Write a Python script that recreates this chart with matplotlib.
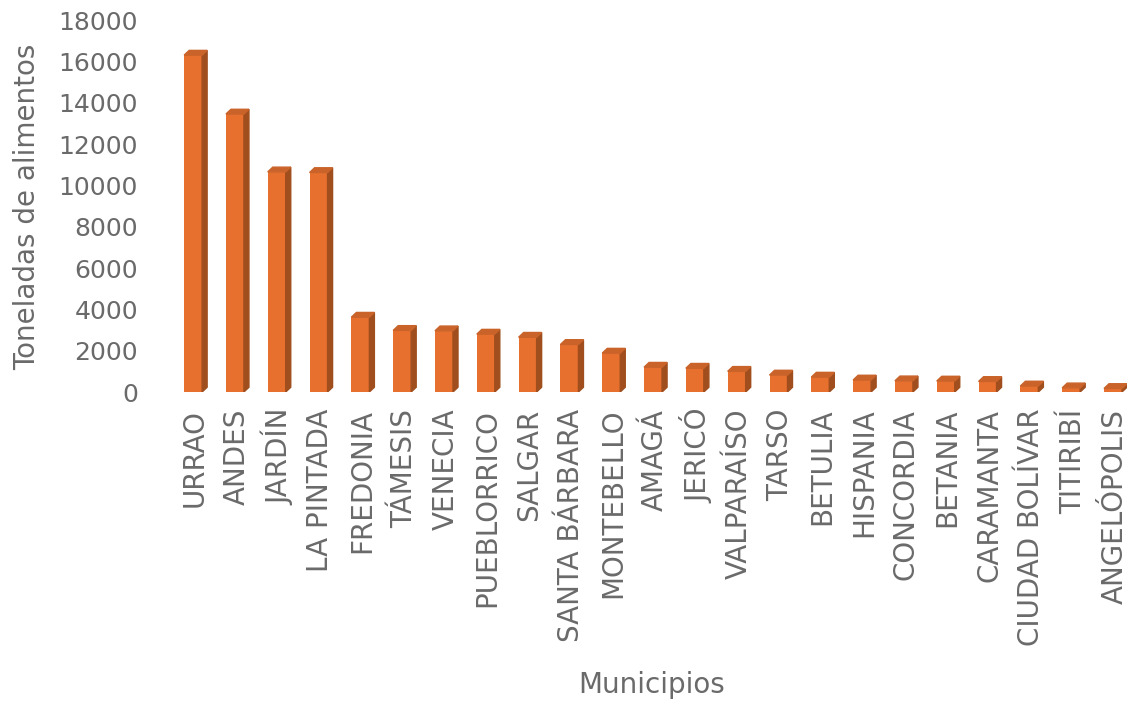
import numpy as np
import matplotlib.pyplot as plt
from matplotlib.patches import Polygon

# datos
municipios = ['URRAO', 'ANDES', 'JARDÍN', 'LA PINTADA', 'FREDONIA', 'TÁMESIS',
              'VENECIA', 'PUEBLORRICO', 'SALGAR', 'SANTA BÁRBARA', 'MONTEBELLO',
              'AMAGÁ', 'JERICÓ', 'VALPARAÍSO', 'TARSO', 'BETULIA', 'HISPANIA',
              'CONCORDIA', 'BETANIA', 'CARAMANTA', 'CIUDAD BOLÍVAR', 'TITIRIBÍ',
              'ANGELÓPOLIS']
toneladas = [16300, 13450, 10650, 10620, 3620, 2980, 2960, 2800, 2650, 2300,
             1880, 1200, 1150, 1000, 820, 720, 580, 540, 530, 510, 290, 200, 170]
yticks = np.arange(0, 18001, 2000)

front = '#E8702F'
side = '#A04E1D'
top = '#C9632A'
gray = '#6a6a6a'

fig = plt.figure(figsize=(11.27, 7.02), dpi=100)
ax = fig.add_axes([170 / 1127, 1 - 392 / 702, 957 / 1127, 372 / 702])

x = np.arange(len(municipios))
w = 0.43
dx = 0.12
dy = 230
x0 = x - 0.26

ax.bar(x0, toneladas, width=w, align='edge', color=front, zorder=3)
for xi, v in zip(x0, toneladas):
    x1 = xi + w
    # cara lateral y tapa (efecto 3D)
    ax.add_patch(Polygon([(x1, 0), (x1 + dx, dy), (x1 + dx, v + dy), (x1, v)],
                         closed=True, color=side, zorder=3))
    ax.add_patch(Polygon([(xi, v), (x1, v), (x1 + dx, v + dy), (xi + dx, v + dy)],
                         closed=True, color=top, zorder=3))

ax.set_xlim(-0.598, 22.29)
ax.set_ylim(0, 18000)
ax.set_yticks(yticks)
ax.set_yticklabels([str(t) for t in yticks])
ax.set_xticks(x)
ax.set_xticklabels(municipios, rotation=90)

for s in ax.spines.values():
    s.set_visible(False)
ax.tick_params(axis='both', length=0, colors=gray)
ax.tick_params(axis='y', labelsize=18, pad=23)
ax.tick_params(axis='x', labelsize=20, pad=12)

fig.text(27 / 1127, 1 - 207 / 702, 'Toneladas de alimentos', fontsize=20,
         color=gray, rotation=90, ha='center', va='center')
fig.text(652 / 1127, 1 - 685 / 702, 'Municipios', fontsize=20,
         color=gray, ha='center', va='center')

fig.savefig('out.png', dpi=100)
